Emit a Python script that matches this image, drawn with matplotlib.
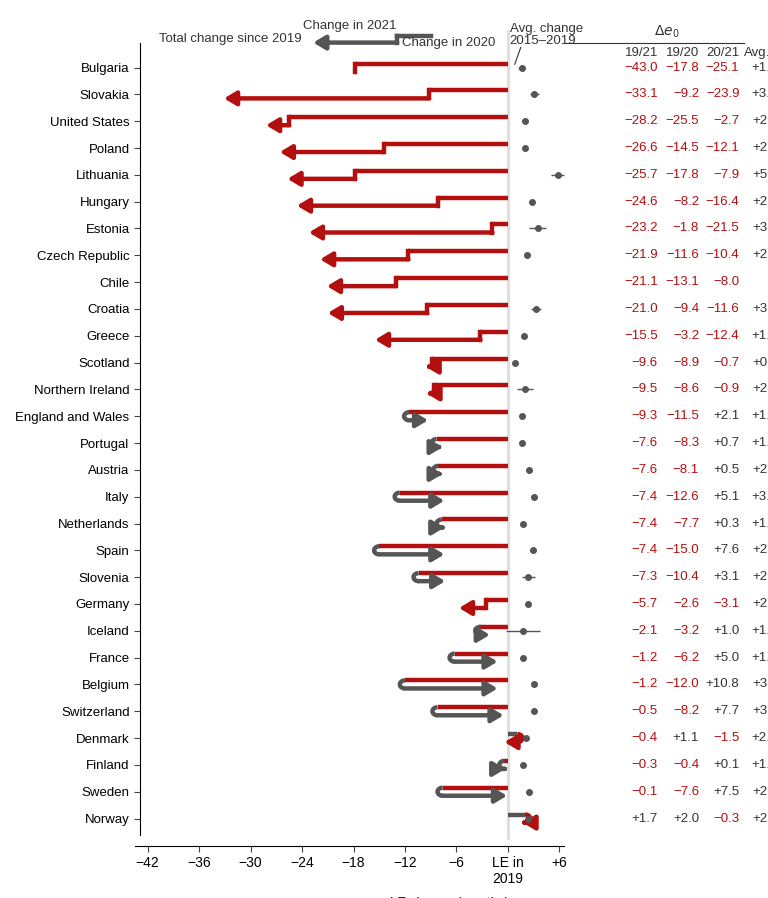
import numpy as np
import matplotlib.pyplot as plt

plt.rcParams['font.family'] = ['Liberation Sans', 'DejaVu Sans']

countries = ['Bulgaria', 'Slovakia', 'United States', 'Poland', 'Lithuania', 'Hungary', 'Estonia',
             'Czech Republic', 'Chile', 'Croatia', 'Greece', 'Scotland', 'Northern Ireland',
             'England and Wales', 'Portugal', 'Austria', 'Italy', 'Netherlands', 'Spain', 'Slovenia',
             'Germany', 'Iceland', 'France', 'Belgium', 'Switzerland', 'Denmark', 'Finland', 'Sweden', 'Norway']
d1921 = [-43.0, -33.1, -28.2, -26.6, -25.7, -24.6, -23.2, -21.9, -21.1, -21.0, -15.5, -9.6, -9.5,
         -9.3, -7.6, -7.6, -7.4, -7.4, -7.4, -7.3, -5.7, -2.1, -1.2, -1.2, -0.5, -0.4, -0.3, -0.1, 1.7]
d1920 = [-17.8, -9.2, -25.5, -14.5, -17.8, -8.2, -1.8, -11.6, -13.1, -9.4, -3.2, -8.9, -8.6,
         -11.5, -8.3, -8.1, -12.6, -7.7, -15.0, -10.4, -2.6, -3.2, -6.2, -12.0, -8.2, 1.1, -0.4, -7.6, 2.0]
d2021 = [-25.1, -23.9, -2.7, -12.1, -7.9, -16.4, -21.5, -10.4, -8.0, -11.6, -12.4, -0.7, -0.9,
         2.1, 0.7, 0.5, 5.1, 0.3, 7.6, 3.1, -3.1, 1.0, 5.0, 10.8, 7.7, -1.5, 0.1, 7.5, -0.3]
avg = [1.6, 3.1, 2.0, 2.0, 5.8, 2.8, 3.5, 2.2, np.nan, 3.3, 1.9, 0.8, 2.0,
       1.7, 1.7, 2.5, 3.1, 1.8, 2.9, 2.4, 2.3, 1.8, 1.8, 3.0, 3.0, 2.1, 1.8, 2.5, 2.3]
avg_err = [0.4, 0.5, 0.1, 0.1, 0.8, 0.1, 1.0, 0.1, 0, 0.6, 0.2, 0.1, 0.9,
           0.1, 0.1, 0.1, 0.1, 0.1, 0.1, 0.8, 0.1, 2.0, 0.1, 0.1, 0.1, 0.1, 0.1, 0.1, 0.3]

RED = '#b30f0f'
GREY = '#555555'
TXT = '#333333'

fig = plt.figure(figsize=(7.68, 8.98), dpi=100)
ax = fig.add_axes([140 / 768, 1 - 840 / 898, 620 / 768, 810 / 898])
n = len(countries)
ax.set_ylim(n - 0.2, -1.4)
ax.set_xlim(-42.9, 29.4)

d = 0.15
lw = 3.2
for i in range(n):
    v1, v2 = d1920[i], d1921[i]
    c1 = RED if v1 < 0 else GREY
    c2 = RED if d2021[i] < 0 else GREY
    ax.plot([0, v1], [i - d, i - d], color=c1, lw=lw, solid_capstyle='butt', zorder=3)
    s1 = np.sign(v1) if v1 != 0 else -1
    s2 = np.sign(v2 - v1)
    t = np.linspace(0, np.pi, 20)
    ys = i - d + 2 * d * (1 - np.cos(t)) / 2
    if s1 == s2:
        ax.plot(v1 + 0 * t, ys, color=c2, lw=lw, zorder=3)
    else:
        xs = v1 + s1 * 0.6 * np.sin(t)
        ax.plot(xs, ys, color=c2, lw=lw, solid_capstyle='butt', zorder=3)
    ax.annotate('', xy=(v2, i + d), xytext=(v1, i + d),
                arrowprops=dict(arrowstyle='-|>,head_length=0.5,head_width=0.3', color=c2,
                                lw=lw, shrinkA=0, shrinkB=0, mutation_scale=14), zorder=3)
    if not np.isnan(avg[i]):
        ax.errorbar(avg[i], i, xerr=avg_err[i], fmt='o', ms=4, color=GREY, lw=1, zorder=4)
    # table
    for x, v in zip([17.5, 22.3, 27.0], [d1921[i], d1920[i], d2021[i]]):
        s = ('\u2212' if v < 0 else '+') + f'{abs(v):.1f}'
        ax.text(x, i, s, ha='right', va='center', fontsize=9.5, color=RED if v < 0 else TXT)
    sa = '.' if np.isnan(avg[i]) else '+' + f'{avg[i]:.1f}'
    ax.text(32.5 if np.isnan(avg[i]) else 31.5, i, sa, ha='right', va='center', fontsize=9.5,
            color=TXT, clip_on=False)

ax.axvline(0, color='#dddddd', lw=2, zorder=1)

ax.set_yticks(range(n))
ax.set_yticklabels(countries, fontsize=9.5)
ax.set_xticks([-42, -36, -30, -24, -18, -12, -6, 0, 6])
ax.set_xticklabels(['\u221242', '\u221236', '\u221230', '\u221224', '\u221218', '\u221212',
                    '\u22126', 'LE in\n2019', '+6'], fontsize=9.5, va='top')
ax.tick_params(length=4, color='#444444')
for k in ['top', 'right']:
    ax.spines[k].set_visible(False)
ax.spines['bottom'].set_bounds(-43.5, 6.5)
ax.spines['left'].set_bounds(-0.9, n - 0.4)
ax.spines['bottom'].set_position(('outward', 4))
ax.set_xlabel('LE change (months)', fontsize=9.5, labelpad=8)

# legend sample
ly = -1.05
ax.plot([-9, -12.9], [ly - 0.12, ly - 0.12], color=GREY, lw=lw, clip_on=False)
ax.plot([-12.9, -12.9], [ly - 0.12, ly + 0.12], color=GREY, lw=lw, clip_on=False)
ax.annotate('', xy=(-22.7, ly + 0.12), xytext=(-12.9, ly + 0.12), annotation_clip=False,
            arrowprops=dict(arrowstyle='-|>,head_length=0.5,head_width=0.3', color=GREY,
                            lw=lw, shrinkA=0, shrinkB=0, mutation_scale=14))
ax.text(-13, -1.55, 'Change in 2021', ha='right', va='center', fontsize=9.5, color=TXT, clip_on=False)
ax.text(-24, -1.05, 'Total change since 2019', ha='right', va='center', fontsize=9.5, color=TXT)
ax.text(-12.3, -0.92, 'Change in 2020', ha='left', va='center', fontsize=9.5, color=TXT)
ax.text(0.2, -1.2, 'Avg. change\n2015\u20132019', ha='left', va='center', fontsize=9.5,
        color=TXT, clip_on=False, linespacing=1.0)
ax.plot([1.5, 0.8], [-0.75, -0.12], color=TXT, lw=0.8)
ax.plot([6.7, 27.5], [-0.9, -0.9], color=TXT, lw=0.8, clip_on=False)
ax.text(18.5, -1.35, r'$\Delta e_0$', ha='center', va='center', fontsize=10, color=TXT, clip_on=False)
for x, s in zip([17.5, 22.3, 27.0], ['19/21', '19/20', '20/21']):
    ax.text(x, -0.55, s, ha='right', va='center', fontsize=9.5, color=TXT)
ax.text(27.5, -0.55, 'Avg.', ha='left', va='center', fontsize=9.5, color=TXT, clip_on=False)
ax.text(30.9, -0.45, '\u00b715\u201319', ha='left', va='center', fontsize=6.5, color=TXT, clip_on=False)

fig.savefig('out.png', dpi=100)
